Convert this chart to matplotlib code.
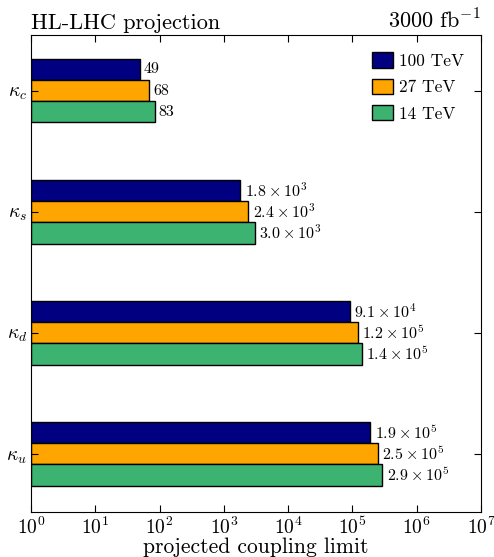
import numpy as np
import matplotlib
matplotlib.use("Agg")
import matplotlib.pyplot as plt

plt.rcParams["font.family"] = ["cmr10", "DejaVu Serif"]
plt.rcParams["mathtext.fontset"] = "cm"
plt.rcParams["axes.formatter.use_mathtext"] = True

# Data
couplings = [r"$\kappa_c$", r"$\kappa_s$", r"$\kappa_d$", r"$\kappa_u$"]
energies = ["100 TeV", "27 TeV", "14 TeV"]
limits_100 = [49, 1.8e3, 9.1e4, 1.9e5]
limits_27 = [68, 2.4e3, 1.2e5, 2.5e5]
limits_14 = [83, 3.0e3, 1.4e5, 2.9e5]
labels_100 = ["49", r"$1.8\times10^{3}$", r"$9.1\times10^{4}$", r"$1.9\times10^{5}$"]
labels_27 = ["68", r"$2.4\times10^{3}$", r"$1.2\times10^{5}$", r"$2.5\times10^{5}$"]
labels_14 = ["83", r"$3.0\times10^{3}$", r"$1.4\times10^{5}$", r"$2.9\times10^{5}$"]
colors = ["#000080", "#FFA500", "#3CB371"]

fig = plt.figure(figsize=(4.94, 5.57), dpi=100)
ax = fig.add_axes([31 / 494, 1 - 512 / 557, 450 / 494, 477 / 557])

ypos = np.arange(len(couplings))
height = 0.175
offsets = [-height, 0, height]
series = [limits_100, limits_27, limits_14]
series_labels = [labels_100, labels_27, labels_14]

for vals, labs, off, col, name in zip(series, series_labels, offsets, colors, energies):
    bars = ax.barh(ypos + off, vals, height=height, left=1, color=col,
                   edgecolor="black", linewidth=1.0, label=name)
    for b, v, t in zip(bars, vals, labs):
        ax.text(v * 1.17, b.get_y() + b.get_height() / 2, t,
                va="center", ha="left", fontsize=11.5)

ax.set_xscale("log")
ax.set_xlim(1, 1e7)
ax.set_ylim(3.48, -0.46)
ax.set_yticks(ypos)
ax.set_yticklabels(couplings, fontsize=14)
ax.set_xticks([10.0 ** k for k in range(8)])
ax.tick_params(axis="x", labelsize=14, pad=3)
ax.tick_params(axis="y", pad=3)
ax.tick_params(which="both", direction="in", top=True, right=True)
ax.tick_params(which="major", length=5)
ax.tick_params(which="minor", length=2.5)
ax.set_xlabel("projected coupling limit", fontsize=15.5, labelpad=0)

ax.text(0.0, 1.005, "HL-LHC projection", transform=ax.transAxes,
        ha="left", va="bottom", fontsize=16)
ax.text(1.0, 1.005, r"3000 fb$^{-1}$", transform=ax.transAxes,
        ha="right", va="bottom", fontsize=16)

ax.legend(loc="upper right", frameon=False, fontsize=12.5,
          handlelength=1.2, handleheight=1.0, labelspacing=0.55,
          handletextpad=0.35, borderaxespad=0.6)

fig.savefig("out.png", dpi=100)
